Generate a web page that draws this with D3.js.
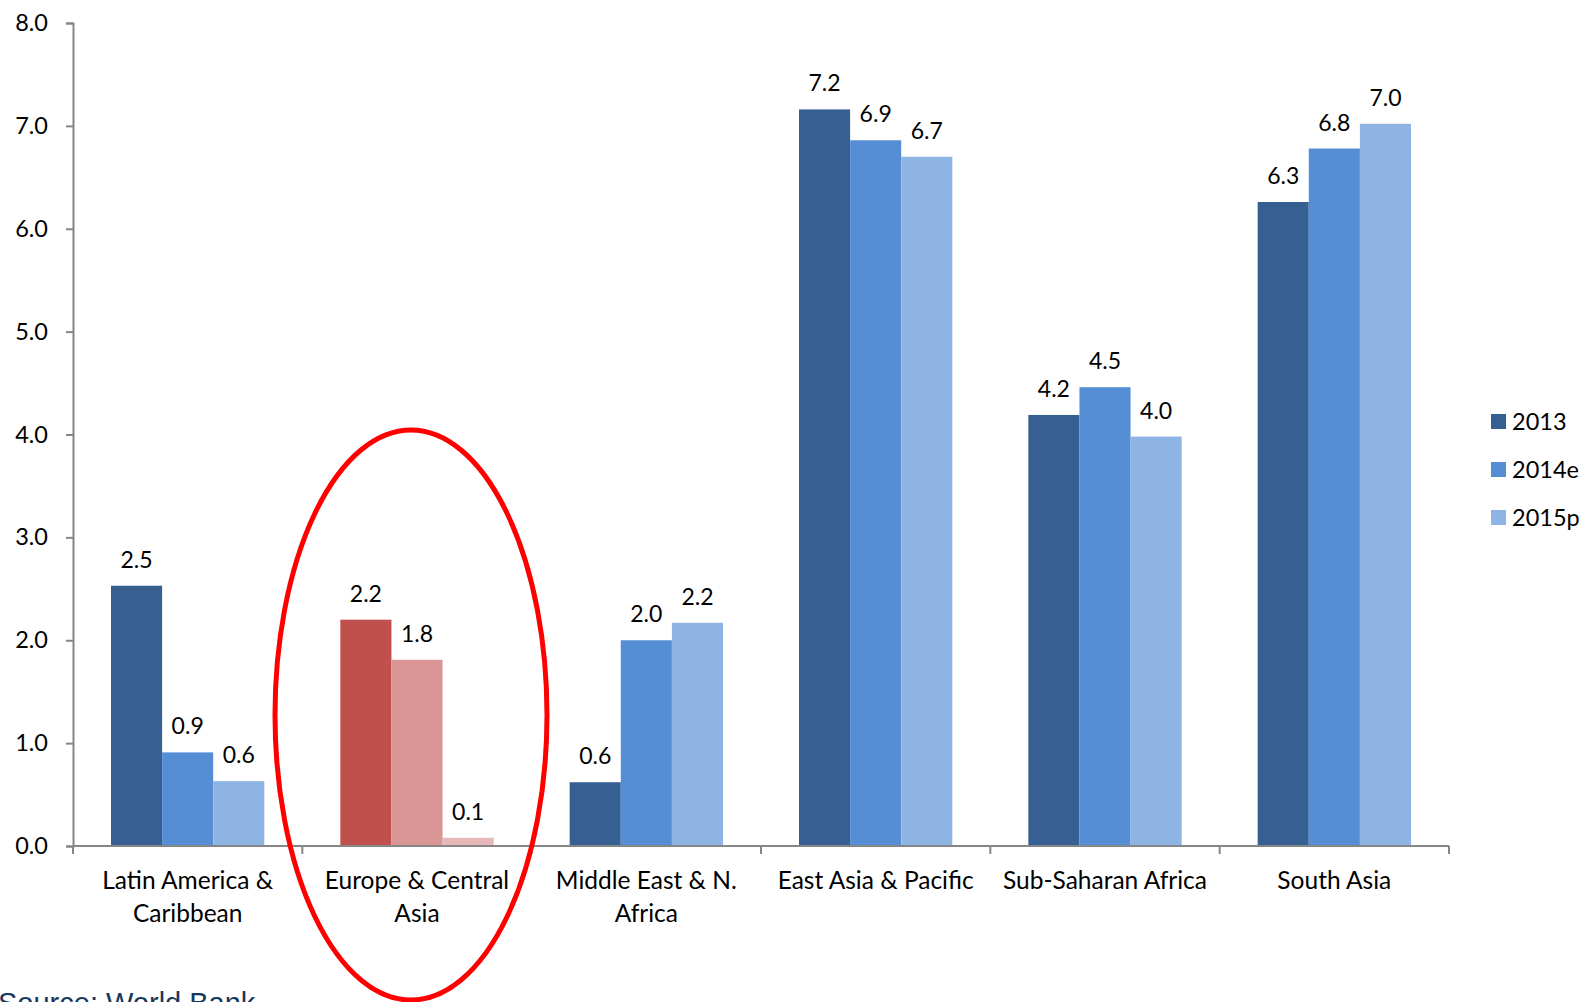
<!DOCTYPE html>
<html>
<head>
<meta charset="utf-8">
<script src="https://cdn.jsdelivr.net/npm/d3@7"></script>
<style>
  html, body { margin: 0; padding: 0; background: #fff; overflow: hidden; }
  svg { display: block; }
  text { font-family: Lato, "Open Sans", sans-serif; fill: #000; }
</style>
</head>
<body>
<svg id="chart" width="1589" height="1002"></svg>
<script>
// Real GDP growth by region, percent
const regions = [
  "Latin America & Caribbean",
  "Europe & Central Asia",
  "Middle East & N. Africa",
  "East Asia & Pacific",
  "Sub-Saharan Africa",
  "South Asia"
];
const regionLabelLines = [
  ["Latin America &", "Caribbean"],
  ["Europe & Central", "Asia"],
  ["Middle East & N.", "Africa"],
  ["East Asia & Pacific"],
  ["Sub-Saharan Africa"],
  ["South Asia"]
];
const seriesNames = ["2013", "2014e", "2015p"];
const values2013  = [2.53, 2.20, 0.62, 7.16, 4.19, 6.26];
const values2014e = [0.91, 1.81, 2.00, 6.86, 4.46, 6.78];
const values2015p = [0.63, 0.08, 2.17, 6.70, 3.98, 7.02];
const yTicks = [0, 1, 2, 3, 4, 5, 6, 7, 8];

const seriesColors = ["#376092", "#558ED5", "#8EB4E3"];
const highlightRegion = "Europe & Central Asia";
const highlightColors = ["#C0504D", "#D99694", "#E6B9B8"];

const seriesValues = [values2013, values2014e, values2015p];

const svg = d3.select("#chart");

const x0 = d3.scaleBand().domain(regions).range([73, 1449]).padding(0);
const groupPad = 38;
const x1 = d3.scaleBand().domain(seriesNames)
  .range([groupPad, x0.bandwidth() - groupPad]).padding(0);
const y = d3.scaleLinear().domain([0, 8]).range([846, 23]);

const fmt = d3.format(".1f");
const axisColor = "#868686";

// Bars and value labels
const groups = svg.append("g").selectAll("g")
  .data(regions)
  .join("g")
  .attr("transform", d => `translate(${x0(d)},0)`);

groups.each(function(region, ri) {
  const g = d3.select(this);
  const rows = seriesNames.map((s, si) => ({ region, series: s, si, value: seriesValues[si][ri] }));
  g.selectAll("rect")
    .data(rows)
    .join("rect")
    .attr("x", d => x1(d.series))
    .attr("width", x1.bandwidth())
    .attr("y", d => y(d.value))
    .attr("height", d => y(0) - y(d.value))
    .attr("fill", d => d.region === highlightRegion ? highlightColors[d.si] : seriesColors[d.si]);
  g.selectAll("text.val")
    .data(rows)
    .join("text")
    .attr("class", "val")
    .attr("x", d => x1(d.series) + x1.bandwidth() / 2)
    .attr("y", d => y(d.value) - 18)
    .attr("text-anchor", "middle")
    .style("font-size", "23px")
    .text(d => fmt(d.value));
});

// Y axis
const yAxis = d3.axisLeft(y).tickValues(yTicks).tickFormat(fmt).tickSize(7).tickPadding(18);
const yg = svg.append("g").attr("transform", "translate(73,0)").call(yAxis);
yg.select(".domain").attr("stroke", axisColor).attr("stroke-width", 2);
yg.selectAll(".tick line").attr("stroke", axisColor).attr("stroke-width", 2);
yg.selectAll(".tick text").style("font-size", "23.5px").style("font-family", "Lato, sans-serif").attr("fill", "#000");

// X axis with ticks at category boundaries
const xg = svg.append("g");
xg.append("line")
  .attr("x1", 73).attr("x2", 1449)
  .attr("y1", y(0)).attr("y2", y(0))
  .attr("stroke", axisColor).attr("stroke-width", 2);
const boundaries = regions.map(r => x0(r)).concat([x0(regions[regions.length - 1]) + x0.bandwidth()]);
xg.selectAll("line.tick")
  .data(boundaries)
  .join("line")
  .attr("class", "tick")
  .attr("x1", d => d).attr("x2", d => d)
  .attr("y1", y(0)).attr("y2", y(0) + 8)
  .attr("stroke", axisColor).attr("stroke-width", 2);

const catLabels = xg.selectAll("text.cat")
  .data(regions)
  .join("text")
  .attr("class", "cat")
  .attr("text-anchor", "middle")
  .style("font-size", "24.5px");
catLabels.each(function(r, i) {
  const t = d3.select(this);
  regionLabelLines[i].forEach((line, li) => {
    t.append("tspan")
      .attr("x", x0(r) + x0.bandwidth() / 2)
      .attr("y", 889 + li * 32.5)
      .text(line);
  });
});

// Legend
const legend = svg.append("g").attr("transform", "translate(1491,414)");
const legendItems = legend.selectAll("g")
  .data(seriesNames)
  .join("g")
  .attr("transform", (d, i) => `translate(0,${i * 48})`);
legendItems.append("rect")
  .attr("width", 15).attr("height", 15)
  .attr("fill", (d, i) => seriesColors[i]);
legendItems.append("text")
  .attr("x", 21).attr("y", 15.5)
  .style("font-size", "23.5px")
  .text(d => d);

// Highlight ellipse around Europe & Central Asia
svg.append("ellipse")
  .attr("cx", x0(highlightRegion) + x0.bandwidth() / 2 - 6)
  .attr("cy", 715)
  .attr("rx", 136)
  .attr("ry", 285)
  .attr("fill", "none")
  .attr("stroke", "#FF0000")
  .attr("stroke-width", 5);

// Source note
svg.append("text")
  .attr("x", -2)
  .attr("y", 1013)
  .style("font-family", "'Liberation Sans', Arial, sans-serif")
  .style("font-size", "29px")
  .style("fill", "#17375E")
  .text("Source: World Bank");
</script>
</body>
</html>
